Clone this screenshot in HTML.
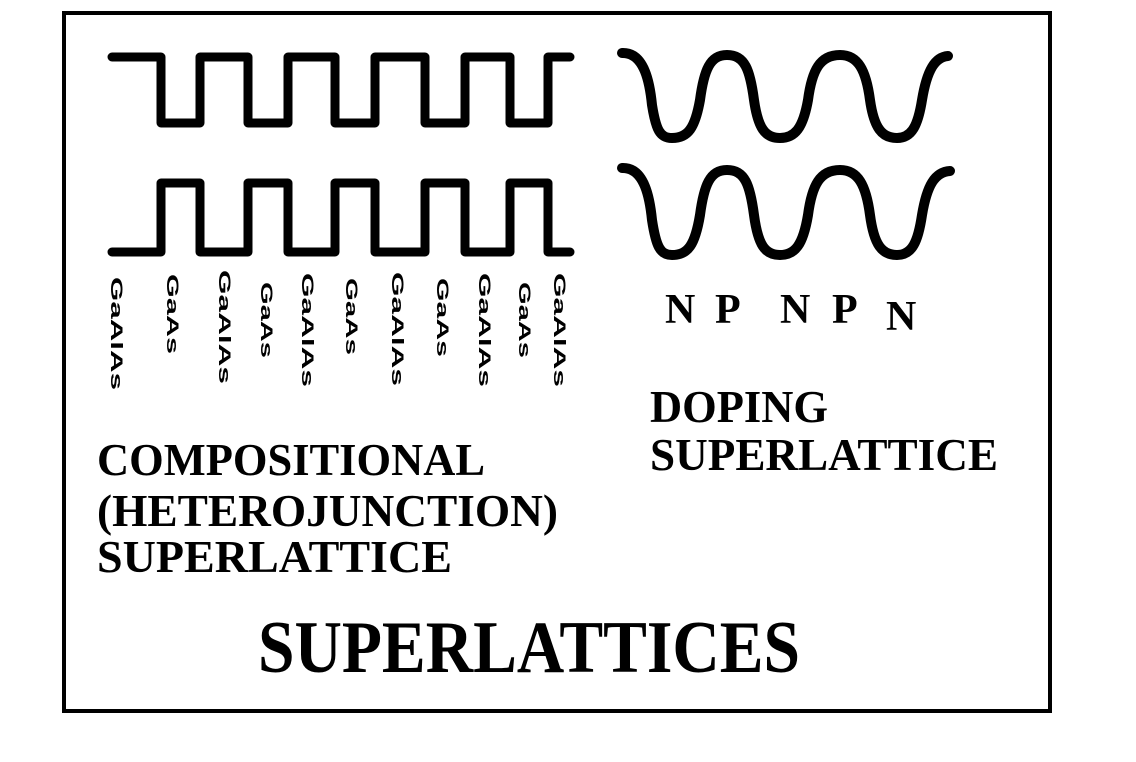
<!DOCTYPE html>
<html><head><meta charset="utf-8"><style>
html,body{margin:0;padding:0;background:#fff;}
svg{display:block;}
.s{font-family:"Liberation Serif",serif;font-weight:bold;fill:#000;}
.g{font-family:"Liberation Sans",sans-serif;font-weight:bold;fill:#000;font-size:17px;}
</style></head><body>
<svg width="1136" height="762" viewBox="0 0 1136 762" xmlns="http://www.w3.org/2000/svg">
<rect x="64" y="13" width="986" height="698" fill="none" stroke="#000" stroke-width="4"/>
<g fill="none" stroke="#000" stroke-width="9" stroke-linejoin="round" stroke-linecap="round">
<path d="M112,57 H161 V123 H200 V57 H248 V123 H288 V57 H335 V123 H375 V57 H425 V123 H465 V57 H510 V123 H548 V57 H570"/>
<path d="M112,252 H161 V183 H200 V252 H248 V183 H288 V252 H335 V183 H375 V252 H425 V183 H465 V252 H510 V183 H548 V252 H570"/>
</g>
<g fill="none" stroke="#000" stroke-width="10" stroke-linecap="round">
<path d="M622,53 C645,52 650,85 652,105 C656,130 660,138 672,138 C688,138 695,128 700,100 C704,70 710,55 727,55 C745,55 750,70 754,100 C758,128 765,138 780,138 C795,138 803,128 808,100 C812,70 820,55 840,55 C858,55 866,70 870,100 C874,128 882,138 897,138 C912,138 918,125 922,100 C927,70 935,57 948,56"/>
<path d="M622,168 C645,167 650,200 652,220 C656,246 660,255 672,255 C688,255 695,245 700,215 C704,185 710,170 727,170 C745,170 750,185 754,215 C758,245 765,255 780,255 C795,255 803,245 808,215 C812,185 820,170 840,170 C858,170 866,185 870,215 C874,245 882,255 897,255 C912,255 918,242 922,215 C927,185 935,172 950,171"/>
</g>
<g class="g">
<text transform="translate(111,277) rotate(90)" textLength="113" lengthAdjust="spacingAndGlyphs">GaAlAs</text>
<text transform="translate(167,274) rotate(90)" textLength="80" lengthAdjust="spacingAndGlyphs">GaAs</text>
<text transform="translate(219,270) rotate(90)" textLength="114" lengthAdjust="spacingAndGlyphs">GaAlAs</text>
<text transform="translate(261,282) rotate(90)" textLength="76" lengthAdjust="spacingAndGlyphs">GaAs</text>
<text transform="translate(302,273) rotate(90)" textLength="114" lengthAdjust="spacingAndGlyphs">GaAlAs</text>
<text transform="translate(346,278) rotate(90)" textLength="77" lengthAdjust="spacingAndGlyphs">GaAs</text>
<text transform="translate(392,272) rotate(90)" textLength="114" lengthAdjust="spacingAndGlyphs">GaAlAs</text>
<text transform="translate(437,278) rotate(90)" textLength="79" lengthAdjust="spacingAndGlyphs">GaAs</text>
<text transform="translate(479,273) rotate(90)" textLength="114" lengthAdjust="spacingAndGlyphs">GaAlAs</text>
<text transform="translate(519,282) rotate(90)" textLength="76" lengthAdjust="spacingAndGlyphs">GaAs</text>
<text transform="translate(554,273) rotate(90)" textLength="114" lengthAdjust="spacingAndGlyphs">GaAlAs</text>
</g>
<g class="s" font-size="42">
<text x="665" y="323">N</text>
<text x="715" y="323">P</text>
<text x="780" y="323">N</text>
<text x="832" y="323">P</text>
<text x="886" y="330">N</text>
</g>
<g class="s" font-size="46">
<text x="97" y="475" textLength="388" lengthAdjust="spacingAndGlyphs">COMPOSITIONAL</text>
<text x="97" y="526" textLength="461" lengthAdjust="spacingAndGlyphs">(HETEROJUNCTION)</text>
<text x="97" y="572" textLength="355" lengthAdjust="spacingAndGlyphs">SUPERLATTICE</text>
<text x="650" y="422" textLength="178" lengthAdjust="spacingAndGlyphs">DOPING</text>
<text x="650" y="470" textLength="348" lengthAdjust="spacingAndGlyphs">SUPERLATTICE</text>
</g>
<text class="s" x="258" y="672" font-size="74" textLength="542" lengthAdjust="spacingAndGlyphs">SUPERLATTICES</text>
</svg>
</body></html>
